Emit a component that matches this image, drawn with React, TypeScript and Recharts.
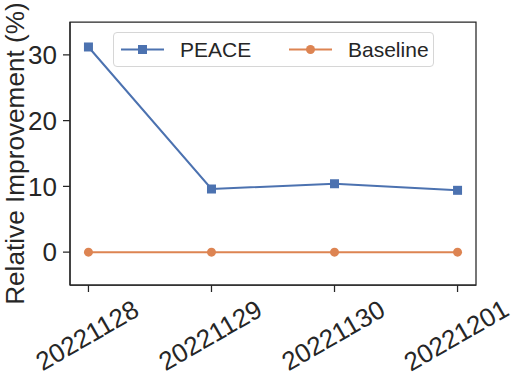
import React from 'react';
import { LineChart, Line, XAxis, YAxis, ReferenceArea, Legend } from 'recharts';

const dates = ['20221128', '20221129', '20221130', '20221201'];
const peace = [31.2, 9.6, 10.4, 9.4];
const baseline = [0, 0, 0, 0];
const yTicks = [0, 10, 20, 30];

const BLUE = '#4c72b0';
const ORANGE = '#dd8452';
const INK = '#262626';
const FONT = '"Liberation Sans", Arial, sans-serif';

const data = dates.map((d, i) => ({ idx: i, date: d, peace: peace[i], baseline: baseline[i] }));

const SquareDot = (props: any) => {
  const { cx, cy, index } = props;
  if (cx == null || cy == null) return null;
  return <rect key={`sq-${index}`} x={cx - 4.5} y={cy - 4.5} width={9} height={9} fill={BLUE} />;
};

const CircleDot = (props: any) => {
  const { cx, cy, index } = props;
  if (cx == null || cy == null) return null;
  return <circle key={`ci-${index}`} cx={cx} cy={cy} r={4.5} fill={ORANGE} />;
};

const DateTick = (props: any) => {
  const { x, y, payload } = props;
  return (
    <g transform={`translate(${x - 1.5},${y + 43})`}>
      <text
        x={0}
        y={0}
        dy="0.36em"
        textAnchor="middle"
        transform="rotate(-30)"
        fill={INK}
        fontSize={26}
        fontFamily={FONT}
      >
        {dates[payload.value]}
      </text>
    </g>
  );
};

const LegendBox = () => (
  <div
    style={{
      width: 319,
      height: 33,
      border: '1px solid #d6d6d6',
      borderRadius: 4,
      background: 'rgba(255,255,255,0.8)',
      position: 'relative',
    }}
  >
    <svg width={319} height={33} style={{ position: 'absolute', left: 0, top: 0 }}>
      <line x1={7} y1={16.5} x2={50} y2={16.5} stroke={BLUE} strokeWidth={2} />
      <rect x={24} y={12} width={9} height={9} fill={BLUE} />
      <text x={66} y={16.5} dy="0.36em" fill={INK} fontSize={21} fontFamily={FONT}>PEACE</text>
      <line x1={175} y1={16.5} x2={218} y2={16.5} stroke={ORANGE} strokeWidth={2} />
      <circle cx={196.5} cy={16.5} r={4.5} fill={ORANGE} />
      <text x={234} y={16.5} dy="0.36em" fill={INK} fontSize={21} fontFamily={FONT}>Baseline</text>
    </svg>
  </div>
);

export default function App() {
  return (
    <div style={{ position: 'absolute', left: 0, top: 0, background: '#fff' }}>
      <LineChart width={515} height={377} data={data} margin={{ top: 22, right: 39, left: 8, bottom: 0 }}>
        <XAxis
          dataKey="idx"
          type="number"
          domain={[-0.15, 3.15]}
          ticks={[0, 1, 2, 3]}
          allowDataOverflow
          height={92}
          stroke={INK}
          strokeWidth={1.25}
          tickSize={7}
          tickMargin={0}
          tickLine={{ stroke: INK, strokeWidth: 1.25 }}
          tick={<DateTick />}
          interval={0}
        />
        <YAxis
          type="number"
          domain={[-5, 35]}
          ticks={yTicks}
          allowDataOverflow
          width={62}
          stroke={INK}
          strokeWidth={1.25}
          tickSize={7}
          tickMargin={6}
          tickLine={{ stroke: INK, strokeWidth: 1.25 }}
          tick={{ fill: INK, fontSize: 26, fontFamily: FONT }}
          label={{
            value: 'Relative Improvement (%)',
            angle: -90,
            position: 'center',
            dx: -24,
            fill: INK,
            fontSize: 26.2,
            fontFamily: FONT,
          }}
        />
        <ReferenceArea x1={-0.15} x2={3.15} y1={-5} y2={35} fill="none" stroke={INK} strokeWidth={1.25} ifOverflow="visible" />
        <Legend
          layout="horizontal"
          verticalAlign="middle"
          align="center"
          content={<LegendBox />}
          wrapperStyle={{ position: 'absolute', left: 113, top: 32, width: 321, height: 35 }}
        />
        <Line
          type="linear"
          dataKey="peace"
          name="PEACE"
          stroke={BLUE}
          strokeWidth={2}
          dot={<SquareDot />}
          activeDot={false}
          isAnimationActive={false}
        />
        <Line
          type="linear"
          dataKey="baseline"
          name="Baseline"
          stroke={ORANGE}
          strokeWidth={2}
          dot={<CircleDot />}
          activeDot={false}
          isAnimationActive={false}
        />
      </LineChart>
    </div>
  );
}
